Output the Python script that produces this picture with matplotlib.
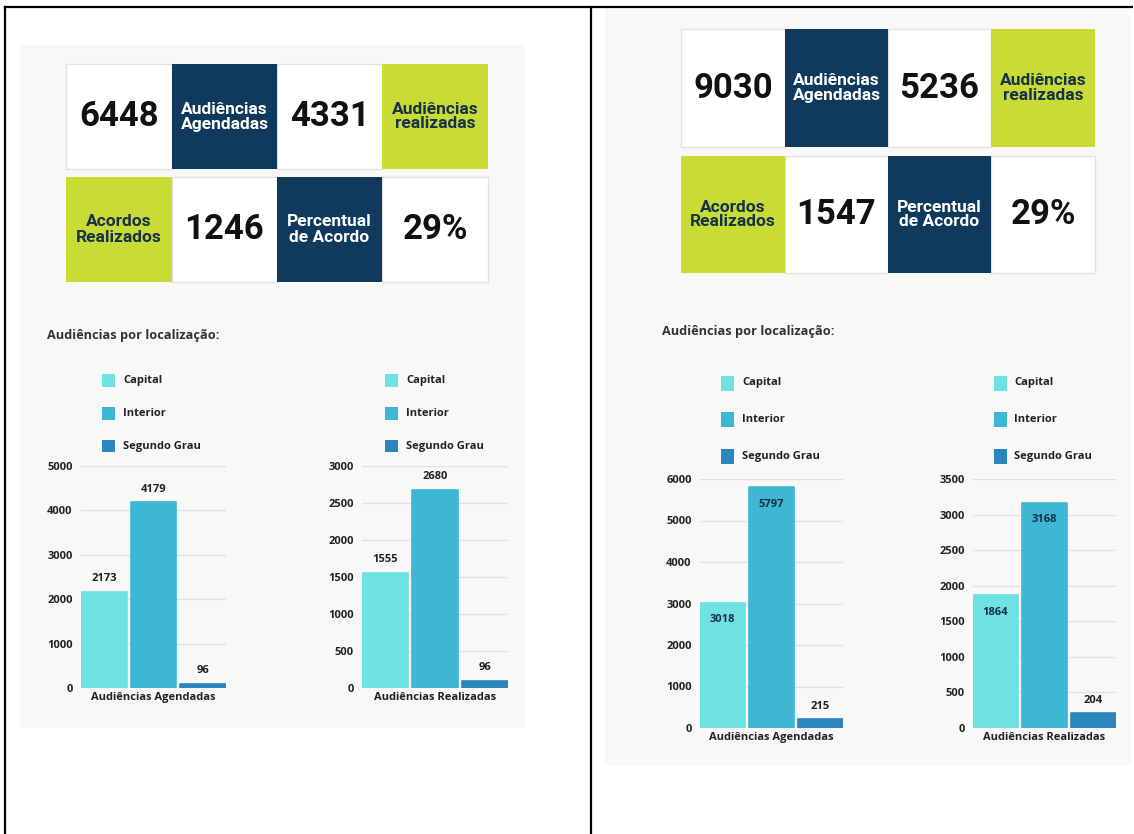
import matplotlib
matplotlib.use("Agg")
import matplotlib.pyplot as plt
from matplotlib.patches import Rectangle

# ---------------- data ----------------
kpi_labels = ["Audiências\nAgendadas", "Audiências\nrealizadas", "Acordos\nRealizados", "Percentual\nde Acordo"]
left_kpi_values = ["6448", "4331", "1246", "29%"]
right_kpi_values = ["9030", "5236", "1547", "29%"]

section_title = "Audiências por localização:"
categories = ["Capital", "Interior", "Segundo Grau"]
left_agendadas = [2173, 4179, 96]
left_realizadas = [1555, 2680, 96]
right_agendadas = [3018, 5797, 215]
right_realizadas = [1864, 3168, 204]
xlabels = ["Audiências Agendadas", "Audiências Realizadas"]

# ---------------- styles ----------------
W, H = 1134, 834
bar_colors = ["#6ee2e2", "#3db7d4", "#2a87bb"]
NAVY = "#0f3a5e"
LIME = "#c9dc36"
BG = "#f8f8f8"
TXT = "#222222"
CHART_FONT = ["Open Sans", "DejaVu Sans"]
KPI_FONT = ["Roboto", "DejaVu Sans"]

fig = plt.figure(figsize=(W / 100, H / 100), dpi=100)
fig.patch.set_facecolor("white")


def fx(x):
    return x / W


def fy(y):
    return 1 - y / H


def rect(x0, y0, x1, y1, fc, ec="none", lw=0, z=0):
    fig.add_artist(Rectangle((fx(x0), fy(y1)), fx(x1) - fx(x0), fy(y0) - fy(y1),
                             transform=fig.transFigure, facecolor=fc, edgecolor=ec,
                             linewidth=lw, zorder=z))


def line(x0, y0, x1, y1):
    fig.add_artist(plt.Line2D([fx(x0), fx(x1)], [fy(y0), fy(y1)], transform=fig.transFigure,
                              color="black", lw=1.6, zorder=10))


# outer frame
line(5, 7, 1132, 7)
line(5, 7, 5, 834)
line(591, 7, 591, 834)

# panel backgrounds
rect(20, 45, 525, 728, BG)
rect(605, 9, 1131, 765, BG)


def kpi_block(cols, rows, values):
    # row 1: value, navy label, value, lime label
    # row 2: lime label, value, navy label, value
    layout = [
        [("v", 0), ("navy", 0), ("v", 1), ("lime", 1)],
        [("lime", 2), ("v", 2), ("navy", 3), ("v", 3)],
    ]
    for r, (ry0, ry1) in enumerate(rows):
        for c in range(4):
            x0, x1 = cols[c], cols[c + 1]
            kind, idx = layout[r][c]
            cx, cy = (x0 + x1) / 2, (ry0 + ry1) / 2
            if kind == "v":
                rect(x0, ry0, x1, ry1, "white", ec="#e2e2e2", lw=1.0, z=1)
                fig.text(fx(cx), fy(cy), values[idx], ha="center", va="center",
                         fontsize=25, fontweight="bold", color="#111111", family=KPI_FONT, zorder=3)
            else:
                fc = NAVY if kind == "navy" else LIME
                tc = "white" if kind == "navy" else "#17314a"
                rect(x0, ry0, x1, ry1, fc, z=2)
                fig.text(fx(cx), fy(cy), kpi_labels[idx], ha="center", va="center",
                         fontsize=12.5, fontweight="bold", color=tc, family=KPI_FONT,
                         linespacing=1.0, zorder=3)


kpi_block([66, 172, 277, 382, 488], [(64, 169), (177, 282)], left_kpi_values)
kpi_block([681, 785, 888, 991, 1095], [(29, 147), (156, 273)], right_kpi_values)

fig.text(fx(47), fy(336), section_title, ha="left", va="center", fontsize=9.2,
         fontweight="bold", color="#333333", family=CHART_FONT)
fig.text(fx(662), fy(332), section_title, ha="left", va="center", fontsize=9.2,
         fontweight="bold", color="#333333", family=CHART_FONT)


def legend(sq_x, text_x, ys, sq_w, sq_h):
    for cat, col, y in zip(categories, bar_colors, ys):
        rect(sq_x, y - sq_h / 2, sq_x + sq_w, y + sq_h / 2, col, z=2)
        fig.text(fx(text_x), fy(y), cat, ha="left", va="center", fontsize=8,
                 fontweight="bold", color=TXT, family=CHART_FONT)


legend(102, 123, [380, 413, 446], 13, 13)
legend(385, 406, [380, 413, 446], 13, 13)
legend(721, 742, [383, 419, 456], 13, 15)
legend(994, 1014, [383, 419, 456], 13, 15)


def chart(box, values, ymax, step, xlabel, inside):
    x0, y0, x1, y1 = box  # pixel: left, top(ymax), right, bottom(0)
    ax = fig.add_axes([fx(x0), fy(y1), fx(x1) - fx(x0), fy(y0) - fy(y1)])
    ax.set_facecolor("none")
    xs = range(len(values))
    bars = ax.bar(xs, values, width=0.92, color=bar_colors, edgecolor=bar_colors,
                  linewidth=1.2, joinstyle="round", zorder=3)
    ax.set_xlim(-0.46, len(values) - 0.54)
    ax.set_ylim(0, ymax)
    ticks = list(range(0, ymax + 1, step))
    ax.set_yticks(ticks)
    ax.set_yticklabels([str(t) for t in ticks], fontsize=8, fontweight="bold",
                       color=TXT, family=CHART_FONT)
    ax.tick_params(axis="y", length=0, pad=6)
    ax.set_xticks([])
    for s in ax.spines.values():
        s.set_visible(False)
    ax.yaxis.grid(True, color="#e2e2e2", lw=1.0, zorder=0)
    ax.set_axisbelow(True)
    ax.set_xlabel(xlabel, fontsize=8, fontweight="bold", color=TXT, family=CHART_FONT,
                  labelpad=3)
    for b, v in zip(bars, values):
        cx = b.get_x() + b.get_width() / 2
        if inside and v > 0.2 * ymax:
            off = -17 * 0.72
            col = "#17314a"
        else:
            off = 13 * 0.72
            col = TXT
        ax.annotate(str(v), (cx, v), xytext=(0, off), textcoords="offset points",
                    ha="center", va="center", fontsize=8, fontweight="bold",
                    color=col, family=CHART_FONT, zorder=4)
    return ax


chart((81, 466, 226, 688), left_agendadas, 5000, 1000, xlabels[0], False)
chart((362, 466, 508, 688), left_realizadas, 3000, 500, xlabels[1], False)
chart((700, 479, 843, 728), right_agendadas, 6000, 1000, xlabels[0], True)
chart((973, 479, 1116, 728), right_realizadas, 3500, 500, xlabels[1], True)

fig.savefig("out.png", dpi=100, facecolor="white")
